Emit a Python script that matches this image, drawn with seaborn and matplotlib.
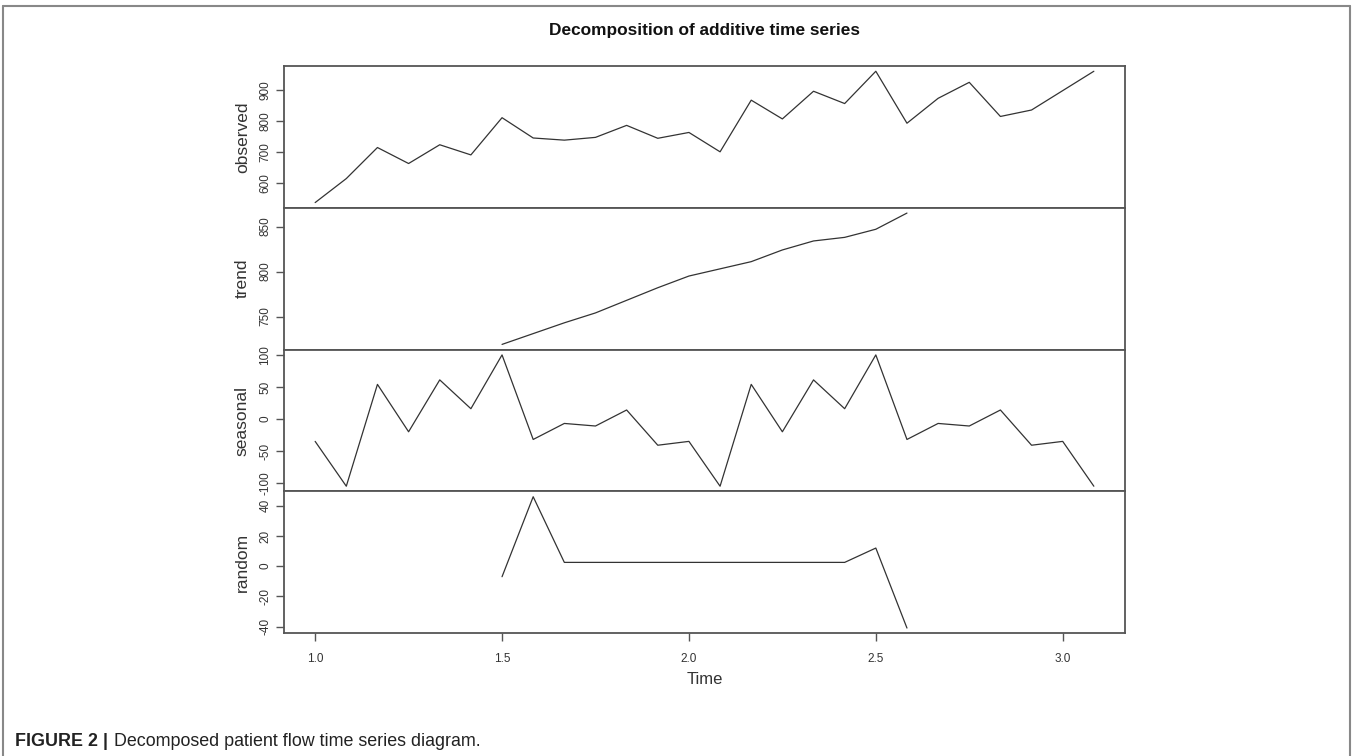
import numpy as np
import pandas as pd
import matplotlib
matplotlib.use("Agg")
import matplotlib.pyplot as plt
from matplotlib.lines import Line2D
import seaborn as sns

# monthly series (frequency 12), 26 observations from 1.0
time = 1 + np.arange(26) / 12

observed = [535, 613, 714, 662, 723, 690, 811, 745, 738, 747, 786, 744, 763,
            700, 868, 807, 897, 857, 962, 793, 874, 926, 815, 836, 899, 962]
seasonal = [-35, -105, 54, -20, 61, 16, 100, -32, -7, -11, 14, -41, -35,
            -105, 54, -20, 61, 16, 100, -32, -7, -11, 14, -41, -35, -105]
# trend and random only exist for months 7..20 (moving average)
trend = [719, 731, 743, 754, 768, 782, 795, 803, 811, 824, 834, 838, 847, 865]
random = [-7, 46, 2.5, 2.5, 2.5, 2.5, 2.5, 2.5, 2.5, 2.5, 2.5, 2.5, 12, -41]
mid = slice(6, 20)

panels = [
    ("observed", time, observed, [600, 700, 800, 900]),
    ("trend", time[mid], trend, [750, 800, 850]),
    ("seasonal", time, seasonal, [-100, -50, 0, 50, 100]),
    ("random", time[mid], random, [-40, -20, 0, 20, 40]),
]
x_ticks = [1.0, 1.5, 2.0, 2.5, 3.0]

sns.set_style("ticks")
plt.rcParams["font.family"] = ["Liberation Sans", "DejaVu Sans"]

W, H = 1352, 756
fig = plt.figure(figsize=(W / 100, H / 100), dpi=100)

left, right = 284 / W, 1125 / W
top_px, bot_px = 66, 633.3
ph = (bot_px - top_px) / 4
spine_col = "#555555"

xmin, xmax = time[0], time[-1]
xpad = (xmax - xmin) * 0.04

for i, (name, x, y, yt) in enumerate(panels):
    y0 = top_px + i * ph
    ax = fig.add_axes([left, 1 - (y0 + ph) / H, right - left, ph / H])
    df = pd.DataFrame({"Time": x, name: y})
    sns.lineplot(data=df, x="Time", y=name, ax=ax, color="#333333", linewidth=0.9)
    ymin, ymax = min(y), max(y)
    ypad = (ymax - ymin) * 0.04
    ax.set_ylim(ymin - ypad, ymax + ypad)
    ax.set_xlim(xmin - xpad, xmax + xpad)
    ax.set_yticks(yt)
    ax.set_yticklabels([str(v) for v in yt], rotation=90, va="center", fontsize=8.5, color="#333333")
    ax.set_ylabel(name, fontsize=12.5, color="#333333", labelpad=7)
    ax.tick_params(axis="y", length=6, width=1, color=spine_col, pad=3)
    for s in ax.spines.values():
        s.set_color(spine_col)
        s.set_linewidth(1.3)
    ax.set_xticks(x_ticks)
    if i < 3:
        ax.tick_params(axis="x", bottom=False, labelbottom=False)
        ax.set_xlabel("")
    else:
        ax.set_xticklabels([f"{v:.1f}" for v in x_ticks], fontsize=8.5, color="#333333")
        ax.tick_params(axis="x", length=6, width=1, color=spine_col, pad=8)
        ax.set_xlabel("Time", fontsize=12, color="#333333", labelpad=5)

fig.text((left + right) / 2, 1 - 31 / H, "Decomposition of additive time series",
         ha="center", va="center", fontsize=12.4, fontweight="bold", color="#111111")

# caption below the chart
cap = fig.text(15 / W, 1 - 742 / H, "FIGURE 2 |", ha="left", va="center",
               fontsize=12.9, fontweight="bold", color="#222222")
fig.canvas.draw()
bb = cap.get_window_extent()
fig.text((bb.x1 + 6) / W, 1 - 742 / H, "Decomposed patient flow time series diagram.",
         ha="left", va="center", fontsize=12.9, color="#222222")

# outer frame (left, top, right)
frame_col = "#888888"
fig.add_artist(Line2D([3 / W, 3 / W], [0, 1 - 6 / H], color=frame_col, lw=1.5))
fig.add_artist(Line2D([3 / W, 1350 / W], [1 - 6 / H, 1 - 6 / H], color=frame_col, lw=1.5))
fig.add_artist(Line2D([1350 / W, 1350 / W], [0, 1 - 6 / H], color=frame_col, lw=1.5))

fig.savefig("out.png", dpi=100, facecolor="white")
